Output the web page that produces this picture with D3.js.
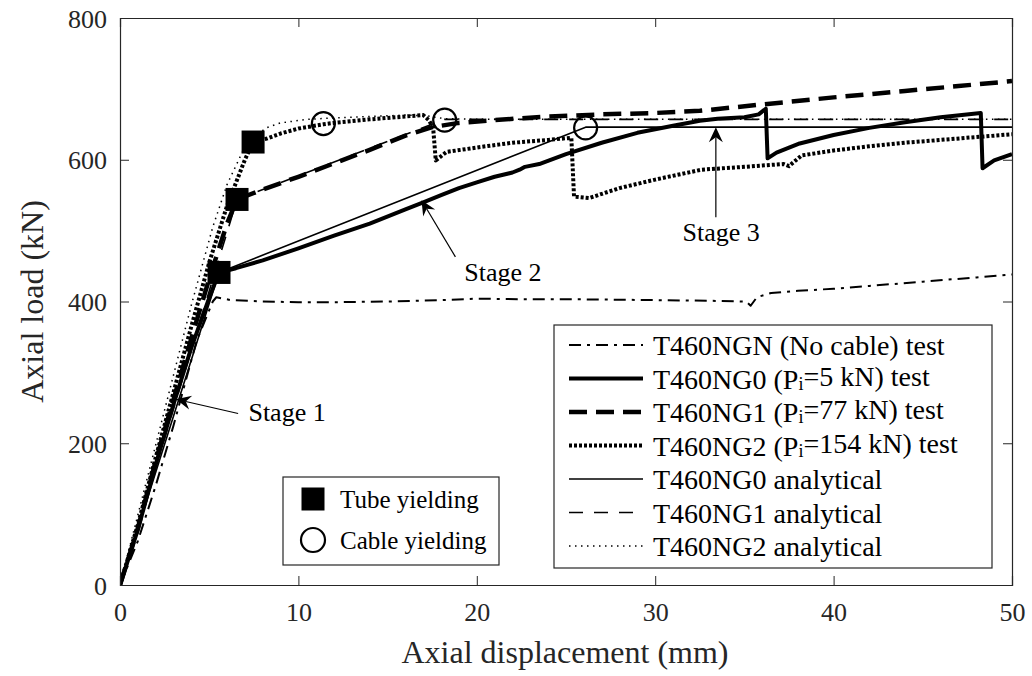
<!DOCTYPE html>
<html>
<head>
<meta charset="utf-8">
<script src="https://cdn.jsdelivr.net/npm/d3@7/dist/d3.min.js"></script>
<style>
  html, body { margin: 0; padding: 0; background: #fff; }
  svg { display: block; }
  svg text { font-family: "Liberation Serif", "Tinos", "Times New Roman", Times, "DejaVu Serif", serif !important; }
</style>
</head>
<body>
<svg id="chart" width="1032" height="676"></svg>
<script>
// ---- data (axial displacement in mm, axial load in kN) ----
const xTicks = [0, 10, 20, 30, 40, 50];
const yTicks = [0, 200, 400, 600, 800];

const ngnTestX = [0, 1, 2, 3, 4.3, 5.2, 5.4, 6.2, 8, 10, 12, 15, 18, 20, 23, 26, 30, 33, 35.1, 35.35, 35.7, 36.5, 38, 40, 42, 45, 48, 50];
const ngnTestY = [0, 62, 140, 225, 345, 400, 406, 402, 400, 399, 399, 400, 402, 404, 403, 403, 402, 401, 400, 394, 406, 412, 415, 418, 422, 428, 434, 438];

const ng0TestX = [0, 1, 2, 3, 4, 5, 5.55, 6.5, 8, 10, 12, 14, 16, 17, 18, 19, 20, 21, 22, 22.4, 22.7, 23.5, 25, 27, 29, 31, 32.5, 33.5, 35, 35.8, 36.2, 36.3, 36.8, 38.1, 40, 42, 44, 46, 48.25, 48.35, 49, 50];
const ng0TestY = [0, 78, 170, 255, 335, 405, 441, 447, 458, 475, 493, 510, 530, 540, 550, 560, 568, 576, 582, 586, 590, 594, 608, 624, 638, 648, 655, 658, 660, 664, 672, 602, 610, 623, 635, 645, 653, 660, 666, 588, 599, 608];

const ng1TestX = [0, 1, 2, 3, 4, 5, 6, 6.56, 8, 10, 12, 14, 16, 17.5, 19, 21, 24, 27, 30, 32.5, 36, 40, 44, 47, 50];
const ng1TestY = [0, 80, 175, 262, 348, 432, 510, 544, 558, 576, 595, 614, 634, 646, 652, 656, 661, 664, 666, 669, 678, 688, 697, 704, 711];

const ng2TestX = [0, 1, 2, 3, 4, 5, 6, 7, 7.46, 8.24, 9, 10, 11.4, 12, 14, 16, 17, 17.3, 17.55, 17.7, 18.3, 20.2, 22, 24, 25.3, 25.45, 26.3, 28, 30, 32.6, 35, 37.2, 37.5, 38.2, 40, 42, 44, 46, 48, 50];
const ng2TestY = [0, 85, 180, 272, 365, 455, 535, 600, 625, 630, 637, 644, 650, 652, 657, 661, 663, 656, 646, 599, 611, 618, 624, 628, 631, 548, 546, 560, 572, 586, 590, 594, 591, 606, 613, 619, 624, 628, 632, 636];

const ng0AnaX = [0, 5.55, 26.1, 50];
const ng0AnaY = [0, 441, 646, 646];

const ng1AnaX = [0, 6.56, 18.2, 50];
const ng1AnaY = [0, 544, 657, 657];

const ng2AnaX = [0, 4, 5.2, 6, 6.9, 7.5, 8.2, 9, 10.5, 12, 14, 16, 17.2, 18.2, 20, 50];
const ng2AnaY = [0, 395, 505, 565, 613, 632, 645, 652, 657, 659, 661, 663, 662, 658, 657, 657];

const tubeYieldX = [5.55, 6.56, 7.46];
const tubeYieldY = [441, 544, 625];
const cableYieldX = [11.4, 18.2, 26.1];
const cableYieldY = [651, 656, 645];

const seriesNames = [
  "T460NGN (No cable) test",
  "T460NG0 (P|i|=5 kN) test",
  "T460NG1 (P|i|=77 kN) test",
  "T460NG2 (P|i|=154 kN) test",
  "T460NG0 analytical",
  "T460NG1 analytical",
  "T460NG2 analytical"
];
const markerNames = ["Tube yielding", "Cable yielding"];
const stageNames = ["Stage 1", "Stage 2", "Stage 3"];

// ---- line styles for each series ----
const styles = [
  { w: 2,   dash: "12,6,3,6" },
  { w: 4,   dash: null },
  { w: 4.5, dash: "18,9" },
  { w: 4,   dash: "3,2" },
  { w: 1.6, dash: null },
  { w: 1.6, dash: "14,11" },
  { w: 1.5, dash: "1.5,4.5" }
];
const seriesData = [
  [ngnTestX, ngnTestY], [ng0TestX, ng0TestY], [ng1TestX, ng1TestY], [ng2TestX, ng2TestY],
  [ng0AnaX, ng0AnaY], [ng1AnaX, ng1AnaY], [ng2AnaX, ng2AnaY]
];

// ---- layout ----
const FONT = '"Liberation Serif", "Tinos", "Times New Roman", Times, "DejaVu Serif", serif';
const svg = d3.select("#chart");
const L = 120, R = 1012, T = 18, B = 585;
const x = d3.scaleLinear().domain([0, 50]).range([L, R]);
const y = d3.scaleLinear().domain([0, 800]).range([B, T]);
const axisColor = "#262626";

const plot = svg.append("g");
svg.append("clipPath").attr("id", "plotClip")
  .append("rect").attr("x", L).attr("y", T).attr("width", R - L).attr("height", B - T);

const line = d3.line().x(d => x(d[0])).y(d => y(d[1]));

// curves, analytical lines first, test lines on top
const order = [4, 5, 6, 0, 1, 2, 3];
order.forEach(i => {
  const [xs, ys] = seriesData[i];
  const pts = xs.map((v, k) => [v, ys[k]]);
  plot.append("path")
    .attr("clip-path", "url(#plotClip)")
    .attr("d", line(pts))
    .attr("fill", "none")
    .attr("stroke", "#000")
    .attr("stroke-width", styles[i].w)
    .attr("stroke-linejoin", "round")
    .attr("stroke-dasharray", styles[i].dash);
});

// yield markers
const sq = 23;
plot.selectAll("rect.tube").data(tubeYieldX.map((v, k) => [v, tubeYieldY[k]]))
  .join("rect").attr("class", "tube")
  .attr("x", d => x(d[0]) - sq / 2).attr("y", d => y(d[1]) - sq / 2)
  .attr("width", sq).attr("height", sq).attr("fill", "#000");
plot.selectAll("circle.cable").data(cableYieldX.map((v, k) => [v, cableYieldY[k]]))
  .join("circle").attr("class", "cable")
  .attr("cx", d => x(d[0])).attr("cy", d => y(d[1])).attr("r", 11.5)
  .attr("fill", "none").attr("stroke", "#000").attr("stroke-width", 2.2);

// ---- axes: box with inward ticks on all sides ----
const tickLen = 9;
const gx = svg.append("g").attr("transform", `translate(0,${B})`)
  .call(d3.axisBottom(x).tickValues(xTicks).tickSize(-tickLen).tickPadding(0).tickFormat(d3.format("d")));
const gxTop = svg.append("g").attr("transform", `translate(0,${T})`)
  .call(d3.axisTop(x).tickValues(xTicks).tickSize(-tickLen).tickFormat(""));
const gy = svg.append("g").attr("transform", `translate(${L},0)`)
  .call(d3.axisLeft(y).tickValues(yTicks).tickSize(-tickLen).tickPadding(0).tickFormat(d3.format("d")));
const gyRight = svg.append("g").attr("transform", `translate(${R},0)`)
  .call(d3.axisRight(y).tickValues(yTicks).tickSize(-tickLen).tickFormat(""));

[gx, gxTop, gy, gyRight].forEach(g => {
  g.attr("font-family", FONT);
  g.select(".domain").attr("stroke", axisColor).attr("stroke-width", 1.2);
  g.selectAll(".tick line").attr("stroke", axisColor).attr("stroke-width", 1);
  g.selectAll(".tick text").attr("fill", axisColor).style("font-size", "26px");
});
gx.selectAll(".tick text").attr("y", 27).attr("dy", "0.35em");
gy.selectAll(".tick text").attr("x", -13).attr("dy", "0.35em");

// axis titles
svg.append("text")
  .attr("x", (L + R) / 2 - 1).attr("y", 652)
  .attr("text-anchor", "middle").attr("dominant-baseline", "central")
  .attr("fill", axisColor).style("font-size", "32px")
  .text("Axial displacement (mm)");
svg.append("text")
  .attr("transform", `translate(32,${(T + B) / 2}) rotate(-90)`)
  .attr("text-anchor", "middle").attr("dominant-baseline", "central")
  .attr("fill", axisColor).style("font-size", "32px")
  .text("Axial load (kN)");

// ---- stage annotations (tip and tail in data units) ----
const stageArrows = [
  { tip: [3.14, 262], tail: [6.62, 242], label: [7.2, 244], anchor: "start" },
  { tip: [16.9, 543], tail: [18.8, 463], label: [19.3, 441], anchor: "start" },
  { tip: [33.4, 646], tail: [33.4, 519], label: [33.7, 498], anchor: "middle" }
];
stageArrows.forEach((a, i) => {
  const x1 = x(a.tail[0]), y1 = y(a.tail[1]), x2 = x(a.tip[0]), y2 = y(a.tip[1]);
  const ang = Math.atan2(y2 - y1, x2 - x1);
  const hl = 15, hw = 7, back = 10;
  svg.append("line")
    .attr("x1", x1).attr("y1", y1)
    .attr("x2", x2 - Math.cos(ang) * back).attr("y2", y2 - Math.sin(ang) * back)
    .attr("stroke", "#000").attr("stroke-width", 1.2);
  const c = Math.cos(ang), s = Math.sin(ang);
  const p = (dx, dy) => [x2 + dx * c - dy * s, y2 + dx * s + dy * c];
  const head = [p(0, 0), p(-hl, hw), p(-back, 0), p(-hl, -hw)];
  svg.append("path").attr("d", "M" + head.map(q => q.join(",")).join("L") + "Z").attr("fill", "#000");
  svg.append("text")
    .attr("x", x(a.label[0])).attr("y", y(a.label[1]))
    .attr("text-anchor", a.anchor).attr("dominant-baseline", "central")
    .attr("fill", "#000").style("font-size", "26px")
    .text(stageNames[i]);
});

// ---- series legend ----
const lg = svg.append("g");
lg.append("rect").attr("x", 554).attr("y", 325).attr("width", 438).attr("height", 243)
  .attr("fill", "#fff").attr("stroke", axisColor).attr("stroke-width", 1.2);
const rowY = k => 345 + k * 33.5;
seriesNames.forEach((name, k) => {
  lg.append("line")
    .attr("x1", 569).attr("x2", 643).attr("y1", rowY(k)).attr("y2", rowY(k))
    .attr("stroke", "#000").attr("stroke-width", styles[k].w)
    .attr("stroke-dasharray", styles[k].dash);
  const t = lg.append("text").attr("x", 653).attr("y", rowY(k))
    .attr("dominant-baseline", "central").attr("fill", "#000").style("font-size", "28px");
  const parts = name.split("|");
  parts.forEach((part, j) => {
    if (j % 2 === 1) {
      t.append("tspan").attr("dy", "0.28em").style("font-size", "18px").text(part);
    } else {
      const ts = t.append("tspan").text(part);
      if (j > 0) ts.attr("dy", "-0.28em").style("font-size", "28px");
    }
  });
});

// ---- marker legend ----
const mg = svg.append("g");
mg.append("rect").attr("x", 283).attr("y", 477).attr("width", 216).attr("height", 88)
  .attr("fill", "#fff").attr("stroke", axisColor).attr("stroke-width", 1.2);
mg.append("rect").attr("x", 313 - 11.5).attr("y", 499 - 11.5).attr("width", 23).attr("height", 23).attr("fill", "#000");
mg.append("circle").attr("cx", 313).attr("cy", 540).attr("r", 12).attr("fill", "none")
  .attr("stroke", "#000").attr("stroke-width", 2.2);
markerNames.forEach((name, k) => {
  mg.append("text").attr("x", 340).attr("y", k === 0 ? 499 : 540)
    .attr("dominant-baseline", "central").attr("fill", "#000").style("font-size", "25px")
    .text(name);
});
</script>
</body>
</html>
